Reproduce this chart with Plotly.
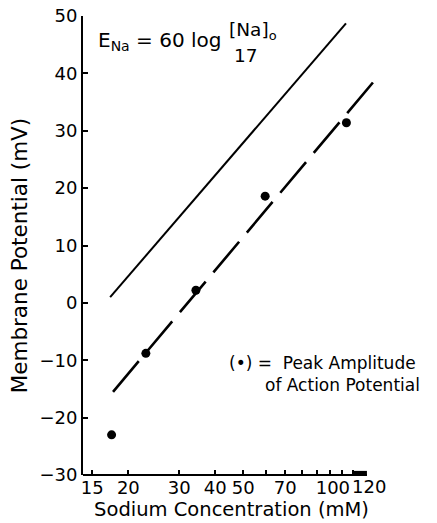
import plotly.graph_objects as go

# ---- data ----
conc_points = [17.5, 23.0, 34.3, 59.6, 114.0]      # mM
peak_mv = [-23.0, -8.8, 2.2, 18.6, 31.4]           # mV, peak amplitude of AP

nernst_conc = [17.3, 113.6]                         # E_Na = 60 log([Na]o/17)
nernst_mv = [1.0, 48.7]

fit_conc = [17.7, 143.0]                            # dashed line through points
fit_mv = [-15.5, 38.8]

x_tickvals = [15, 20, 30, 40, 50, 70, 100]
x_ticktext = ["15", "20", "30", "40", "50", "70", "\u00a0100"]
x_minor_vals = [60, 80, 90, 110, 120]
last_tick_label = "120"
y_tickvals = [-30, -20, -10, 0, 10, 20, 30, 40, 50]

FONT = "DejaVu Sans"

fig = go.Figure()
fig.add_trace(go.Scatter(x=nernst_conc, y=nernst_mv, mode="lines",
                         line=dict(color="black", width=2), showlegend=False))
fig.add_trace(go.Scatter(x=fit_conc, y=fit_mv, mode="lines",
                         line=dict(color="black", width=2.6, dash="40px,12px"),
                         showlegend=False))
fig.add_trace(go.Scatter(x=conc_points, y=peak_mv, mode="markers",
                         marker=dict(color="black", size=9), showlegend=False))

fig.update_layout(
    width=437, height=523,
    margin=dict(l=83, r=57, t=16, b=48, autoexpand=False),
    paper_bgcolor="white", plot_bgcolor="white",
    font=dict(family=FONT, color="black", size=18),
    xaxis=dict(type="log", range=[1.1439, 2.1733], showgrid=False, zeroline=False,
               automargin=False, tickangle=0,
               showline=False, ticks="inside", ticklen=5, tickwidth=1.5, tickcolor="black",
               tickvals=x_tickvals, ticktext=x_ticktext,
               minor=dict(tickvals=x_minor_vals, ticks="inside", ticklen=5, tickwidth=1.5,
                          tickcolor="black", showgrid=False),
               tickfont=dict(family=FONT, size=18),
               title=dict(text="Sodium Concentration (mM)", font=dict(family=FONT, size=19.5),
                          standoff=4)),
    yaxis=dict(range=[-30, 50], showgrid=False, zeroline=False, automargin=False,
               showline=True, linecolor="black", linewidth=2,
               ticks="inside", ticklen=5, tickwidth=1.5, tickcolor="black",
               tickvals=y_tickvals, tickfont=dict(family=FONT, size=18)),
)

# x axis line (ends short of the plot edge, as in the original)
fig.add_shape(type="line", xref="x domain", yref="y domain", x0=0, x1=0.956, y0=0, y1=0,
              line=dict(color="black", width=2))
fig.add_shape(type="line", xref="x domain", yref="paper", x0=0.909, x1=0.956,
              y0=0.0035, y1=0.0035, line=dict(color="black", width=5))

# label for the last tick (printed offset to the right in the original)
fig.add_annotation(text=last_tick_label, xref="paper", yref="paper",
                   x=(369 - 83) / 297, y=-0.026, xanchor="center", yanchor="middle",
                   showarrow=False, font=dict(family=FONT, size=18))

# y axis title
fig.add_annotation(text="Membrane Potential (mV)", textangle=-90, xref="paper", yref="paper",
                   x=-0.213, y=0.478, xanchor="center", yanchor="middle", showarrow=False,
                   font=dict(family=FONT, size=21.5))

# equation label
fig.add_annotation(text="E<sub>Na</sub> = 60 log", xref="paper", yref="paper",
                   x=0.045, y=0.945, xanchor="left", yanchor="middle", showarrow=False,
                   font=dict(family=FONT, size=20))
fig.add_annotation(text="[Na]<sub>o</sub>", xref="paper", yref="paper",
                   x=0.574, y=0.968, xanchor="center", yanchor="middle", showarrow=False,
                   font=dict(family=FONT, size=18.5))
fig.add_annotation(text="17", xref="paper", yref="paper",
                   x=0.548, y=0.913, xanchor="center", yanchor="middle", showarrow=False,
                   font=dict(family=FONT, size=18.5))
# arrow
fig.add_annotation(text="", x=58.6, y=33.8, xref="x", yref="y", ax=-55, ay=-43,
                   showarrow=True, arrowhead=2, arrowsize=1.2, arrowwidth=1.5, arrowcolor="black")

# key for dots
fig.add_annotation(text="(•) =  Peak Amplitude", xref="paper", yref="paper",
                   x=0.485, y=0.245, xanchor="left", yanchor="middle", showarrow=False,
                   font=dict(family=FONT, size=17))
fig.add_annotation(text="of Action Potential", xref="paper", yref="paper",
                   x=0.606, y=0.195, xanchor="left", yanchor="middle", showarrow=False,
                   font=dict(family=FONT, size=17))

fig.write_html("out.html", config={"displayModeBar": False},
               post_script="document.body.style.margin='0';")
